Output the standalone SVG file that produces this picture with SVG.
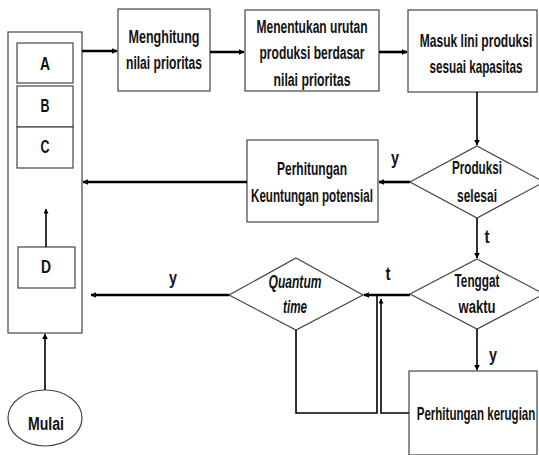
<svg xmlns="http://www.w3.org/2000/svg" width="539" height="455" viewBox="0 0 539 455">
<defs>
<marker id="ah" viewBox="0 0 10 10" refX="9" refY="5" markerWidth="6" markerHeight="6" markerUnits="userSpaceOnUse" orient="auto">
<path d="M0,0 L10,5 L0,10 z" fill="#000"/>
</marker>
<marker id="ahs" viewBox="0 0 10 10" refX="9" refY="5" markerWidth="5" markerHeight="5" markerUnits="userSpaceOnUse" orient="auto">
<path d="M0,0 L10,5 L0,10 z" fill="#000"/>
</marker>
</defs>
<style>
.box{fill:#fff;stroke:#444;stroke-width:1.2}
.t{font-family:"Liberation Sans",Arial,sans-serif;font-size:17.5px;font-weight:bold;fill:#111;text-anchor:middle}
.i{font-style:italic}
.c{fill:none;stroke:#000;stroke-width:2.6}
.v{fill:none;stroke:#000;stroke-width:1.6}
</style>
<rect width="539" height="455" fill="#fff"/>
<g id="antrian">
<rect class="box" x="8" y="32" width="74" height="301"/>
</g>
<g id="A"><rect class="box" x="17" y="43" width="56" height="40"/><text class="t" x="45" y="70" textLength="10" lengthAdjust="spacingAndGlyphs">A</text></g>
<g id="B"><rect class="box" x="17" y="86" width="56" height="41"/><text class="t" x="45" y="112" textLength="9" lengthAdjust="spacingAndGlyphs">B</text></g>
<g id="C"><rect class="box" x="17" y="127" width="56" height="41"/><text class="t" x="45" y="153" textLength="9" lengthAdjust="spacingAndGlyphs">C</text></g>
<g id="D"><rect class="box" x="18" y="247" width="57" height="41"/><text class="t" x="46" y="273" textLength="10" lengthAdjust="spacingAndGlyphs">D</text></g>
<g id="menghitung"><rect class="box" x="118" y="9" width="92" height="82"/><text class="t" x="164" y="43" textLength="71" lengthAdjust="spacingAndGlyphs">Menghitung</text><text class="t" x="164" y="69" textLength="76" lengthAdjust="spacingAndGlyphs">nilai prioritas</text></g>
<g id="menentukan"><rect class="box" x="245" y="10" width="134" height="81"/><text class="t" x="312" y="33" textLength="111" lengthAdjust="spacingAndGlyphs">Menentukan urutan</text><text class="t" x="312" y="59" textLength="105" lengthAdjust="spacingAndGlyphs">produksi berdasar</text><text class="t" x="312" y="86" textLength="77" lengthAdjust="spacingAndGlyphs">nilai prioritas</text></g>
<g id="masuk"><rect class="box" x="408" y="10" width="129" height="82"/><text class="t" transform="translate(476,47) scale(0.69,1)">Masuk lini produksi</text><text class="t" transform="translate(476,73) scale(0.67,1)">sesuai kapasitas</text></g>
<g id="produksi"><path class="box" d="M477,146 L544,182 L477,218 L410,182 Z"/><text class="t" x="477" y="174" textLength="50" lengthAdjust="spacingAndGlyphs">Produksi</text><text class="t" x="477" y="202" textLength="40" lengthAdjust="spacingAndGlyphs">selesai</text></g>
<g id="keuntungan"><rect class="box" x="247" y="140" width="131" height="82"/><text class="t" x="312" y="175" textLength="70" lengthAdjust="spacingAndGlyphs">Perhitungan</text><text class="t" x="312" y="202" textLength="122" lengthAdjust="spacingAndGlyphs">Keuntungan potensial</text></g>
<g id="tenggat"><path class="box" d="M477,259 L544,294 L477,329 L410,294 Z"/><text class="t" x="477" y="287" textLength="45" lengthAdjust="spacingAndGlyphs">Tenggat</text><text class="t" x="477" y="313" textLength="37" lengthAdjust="spacingAndGlyphs">waktu</text></g>
<g id="quantum"><path class="box" d="M296,258 L363,295 L296,330 L229,295 Z"/><text class="t i" x="295" y="288" textLength="53" lengthAdjust="spacingAndGlyphs">Quantum</text><text class="t i" x="295" y="313" textLength="24" lengthAdjust="spacingAndGlyphs">time</text></g>
<g id="kerugian"><rect class="box" x="409" y="371" width="128" height="84"/><text class="t" transform="translate(476,420) scale(0.66,1)">Perhitungan kerugian</text></g>
<g id="mulai"><ellipse class="box" cx="45" cy="418" rx="37" ry="28"/><text class="t" x="46" y="430" textLength="36" lengthAdjust="spacingAndGlyphs">Mulai</text></g>
<g id="connectors">
<line class="c" x1="82" y1="51" x2="117" y2="51" marker-end="url(#ah)"/>
<line class="c" x1="210" y1="52" x2="244" y2="52" marker-end="url(#ah)"/>
<line class="c" x1="379" y1="52" x2="407" y2="52" marker-end="url(#ah)"/>
<line class="v" x1="477" y1="92" x2="477" y2="145" marker-end="url(#ah)"/>
<line class="c" x1="410" y1="182" x2="379" y2="182" marker-end="url(#ah)"/>
<line class="c" x1="247" y1="182" x2="83" y2="182" marker-end="url(#ah)"/>
<line class="v" x1="477" y1="218" x2="477" y2="258" marker-end="url(#ah)"/>
<line class="v" x1="477" y1="329" x2="477" y2="370" marker-end="url(#ah)"/>
<line class="c" x1="410" y1="295" x2="364" y2="295" marker-end="url(#ah)"/>
<line class="c" x1="229" y1="295" x2="91" y2="295" marker-end="url(#ah)"/>
<path class="v" d="M296,330 L296,413 L377,413 L377,295" stroke-width="2"/>
<path class="v" d="M409,413 L381,413 L381,299" stroke-width="2" marker-end="url(#ahs)"/>
<line class="v" x1="46" y1="247" x2="46" y2="209" stroke-width="1" marker-end="url(#ahs)"/>
<line class="v" x1="45" y1="390" x2="45" y2="334" marker-end="url(#ah)"/>
<text class="t" x="395" y="164" textLength="8" lengthAdjust="spacingAndGlyphs">y</text>
<text class="t" x="487" y="243" textLength="5" lengthAdjust="spacingAndGlyphs">t</text>
<text class="t" x="388" y="280" textLength="5" lengthAdjust="spacingAndGlyphs">t</text>
<text class="t" x="493" y="361" textLength="8" lengthAdjust="spacingAndGlyphs">y</text>
<text class="t" x="173" y="284" textLength="8" lengthAdjust="spacingAndGlyphs">y</text>
</g>
</svg>
